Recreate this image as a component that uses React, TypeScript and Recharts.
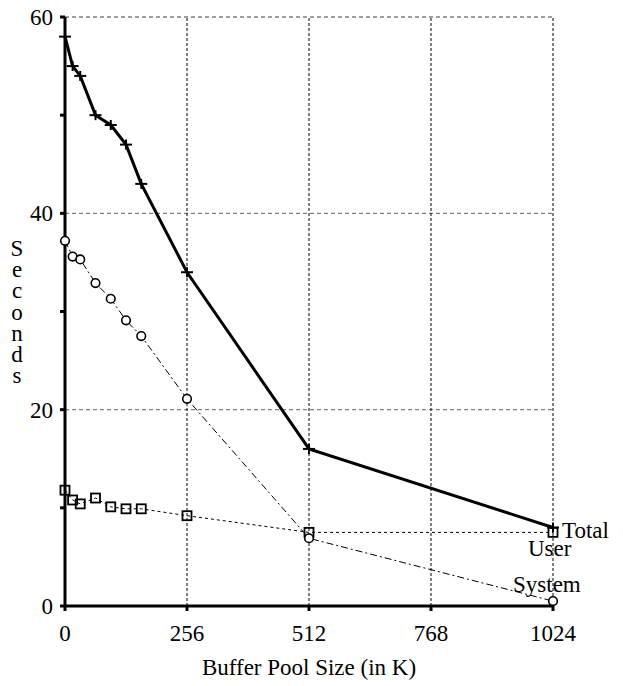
import { LineChart, Line, XAxis, YAxis, ReferenceLine, LabelList } from 'recharts'

// buffer pool sizes (K) and measured seconds
const bufferSizes = [0, 16, 32, 64, 96, 128, 160, 256, 512, 1024]
const totalSeconds = [58, 55, 54, 50, 49, 47, 43, 34, 16, 8]
const systemSeconds = [37.2, 35.6, 35.3, 32.9, 31.3, 29.1, 27.5, 21.1, 6.9, 0.5]
const userSeconds = [11.8, 10.8, 10.4, 11.0, 10.1, 9.9, 9.9, 9.2, 7.5, 7.5]

const xTicks = [0, 256, 512, 768, 1024]
const yTicks = [0, 10, 20, 30, 40, 50, 60]
const yGridLines = [20, 40, 60]
const xGridLines = [256, 512, 768, 1024]
const yLabel = 'Seconds'
const xLabel = 'Buffer Pool Size (in K)'

const FONT = "'Liberation Serif', 'DejaVu Serif', serif"
const FS = 23

const chartData = bufferSizes.map((size, i) => ({
  size,
  total: totalSeconds[i],
  system: systemSeconds[i],
  user: userSeconds[i],
}))

const lastIndex = bufferSizes.length - 1

function PlusDot(props: any) {
  const { cx, cy, index } = props
  return (
    <g key={`plus-${index}`}>
      <line x1={cx - 6} y1={cy} x2={cx + 6} y2={cy} stroke='#000' strokeWidth={2} />
      <line x1={cx} y1={cy - 5} x2={cx} y2={cy + 5} stroke='#000' strokeWidth={2} />
    </g>
  )
}

function CircleDot(props: any) {
  const { cx, cy, index } = props
  return <circle key={`circ-${index}`} cx={cx} cy={cy} r={4.3} fill='#fff' stroke='#000' strokeWidth={1.6} />
}

function SquareDot(props: any) {
  const { cx, cy, index } = props
  return (
    <rect key={`sq-${index}`} x={cx - 4.5} y={cy - 4.5} width={9} height={9} fill='none' stroke='#000' strokeWidth={1.8} />
  )
}

function endLabel(text: string, dx: number, dy: number) {
  return (props: any) => {
    const { x, y, index } = props
    if (index !== lastIndex) return null
    return (
      <text x={x + dx} y={y + dy} fontSize={FS} fontFamily={FONT} fill='#000'>
        {text}
      </text>
    )
  }
}

// letters of the axis title stacked one above the other
function StackedYLabel() {
  return (
    <g>
      {yLabel.split('').map((ch, i) => (
        <text key={i} x={9} y={256 + i * 21.2} textAnchor='middle' fontSize={FS} fontFamily={FONT} fill='#000'>
          {ch}
        </text>
      ))}
    </g>
  )
}

function BottomLabel(props: any) {
  const { viewBox } = props
  return (
    <text x={viewBox.x + viewBox.width / 2} y={675} textAnchor='middle' fontSize={FS} fontFamily={FONT} fill='#000'>
      {xLabel}
    </text>
  )
}

export default function App() {
  const tickStyle = { fill: '#000', fontSize: FS, fontFamily: FONT }
  return (
    <div style={{ width: 607, height: 686, marginTop: -8, fontFamily: FONT }}>
      <LineChart width={607} height={686} data={chartData} margin={{ top: 17, right: 62, left: 0, bottom: 0 }}>
        {yGridLines.map((v) => (
          <ReferenceLine key={`hy-${v}`} y={v} stroke='#808080' strokeDasharray='4 3' strokeWidth={1.4} />
        ))}
        {xGridLines.map((v) => (
          <ReferenceLine key={`vx-${v}`} x={v} stroke='#000' strokeDasharray='3 2' strokeWidth={1} />
        ))}
        <XAxis
          dataKey='size'
          type='number'
          domain={[0, 1024]}
          ticks={xTicks}
          interval={0}
          height={80}
          tick={tickStyle}
          tickSize={5}
          tickMargin={14}
          axisLine={{ stroke: '#000', strokeWidth: 3 }}
          tickLine={{ stroke: '#000', strokeWidth: 3 }}
          label={{ content: BottomLabel }}
        />
        <YAxis
          type='number'
          domain={[0, 60]}
          ticks={yTicks}
          interval={0}
          width={57}
          tick={tickStyle}
          tickSize={5}
          tickMargin={7}
          tickFormatter={(v) => (v % 20 === 0 ? `${v}` : '')}
          axisLine={{ stroke: '#000', strokeWidth: 3 }}
          tickLine={{ stroke: '#000', strokeWidth: 3 }}
          label={{ content: StackedYLabel }}
        />
        <Line
          type='linear'
          dataKey='user'
          stroke='#000'
          strokeWidth={1}
          strokeDasharray='3 3'
          dot={SquareDot}
          activeDot={false}
          isAnimationActive={false}
        >
          <LabelList dataKey='user' content={endLabel('User', -25, 24)} />
        </Line>
        <Line
          type='linear'
          dataKey='system'
          stroke='#000'
          strokeWidth={1}
          strokeDasharray='7 3 2 3'
          dot={CircleDot}
          activeDot={false}
          isAnimationActive={false}
        >
          <LabelList dataKey='system' content={endLabel('System', -40, -9)} />
        </Line>
        <Line
          type='linear'
          dataKey='total'
          stroke='#000'
          strokeWidth={3}
          dot={PlusDot}
          activeDot={false}
          isAnimationActive={false}
        >
          <LabelList dataKey='total' content={endLabel('Total', 9, 11)} />
        </Line>
      </LineChart>
    </div>
  )
}
